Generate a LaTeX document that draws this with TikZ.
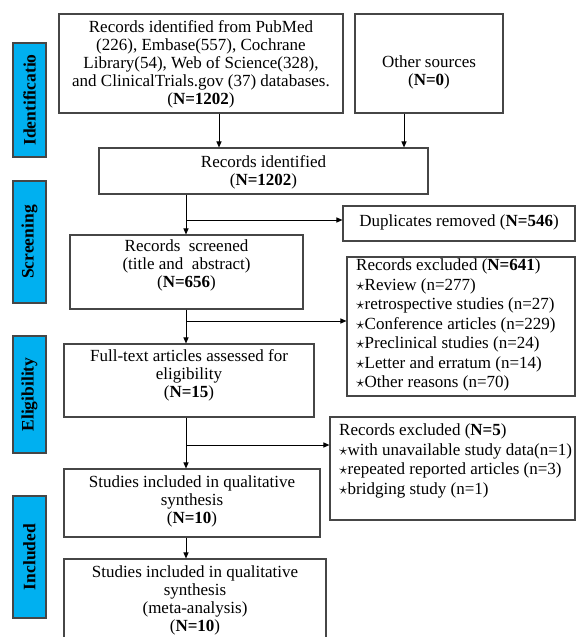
\documentclass[tikz,border=0pt]{standalone}
\usepackage{fontspec}
\setmainfont{Liberation Serif}
\usetikzlibrary{arrows.meta,calc}
\definecolor{barblue}{RGB}{0,176,240}
\definecolor{edgegray}{RGB}{70,70,70}
\tikzset{
  box/.style={draw=edgegray,line width=1.1pt,fill=white,inner sep=0pt},
  txt/.style={align=center,font=\fontsize{17}{18}\selectfont,inner sep=0pt},
  ltxt/.style={align=left,font=\fontsize{17}{19.5}\selectfont,inner sep=0pt,anchor=west},
  bar/.style={draw=edgegray,line width=1.1pt,fill=barblue,inner sep=0pt,minimum width=33pt},
  bartxt/.style={rotate=90,font=\fontsize{17.5}{18}\selectfont\bfseries,inner sep=0pt},
  arr/.style={line width=1pt,-{Triangle[length=6pt,width=5pt]}},
  ln/.style={line width=1pt}
}
\begin{document}
\begin{tikzpicture}[x=1pt,y=-1pt]
\useasboundingbox (0,0) rectangle (576,637);
\clip (0,0) rectangle (576,637);
% phase bars
\node[bar,minimum height=114pt] (b1) at (29.5,100) {};
\node[bartxt] (b1t) at (b1.center) {Identificatio};
\node[bar,minimum height=122pt] (b2) at (29.5,242) {};
\node[bartxt] (b2t) at (b2.center) {Screening};
\node[bar,minimum height=117pt] (b3) at (29.5,394.5) {};
\node[bartxt] (b3t) at (b3.center) {Eligibility};
\node[bar,minimum height=122pt] (b4) at (29.5,557) {};
\node[bartxt] (b4t) at (b4.center) {Included};
% boxes
\node[box,minimum width=284pt,minimum height=99pt] (db) at (201,63.5) {};
\node[txt] (dbt) at (201,64.5) {Records identified from PubMed\\(226), Embase(557), Cochrane\\Library(54), Web of Science(328),\\and ClinicalTrials.gov (37) databases.\\(\textbf{N=1202})};
\node[box,minimum width=148pt,minimum height=99pt] (other) at (429,63.5) {};
\node[txt] (othert) at (429,72) {Other sources\\(\textbf{N=0})};
\node[box,minimum width=329pt,minimum height=46pt] (ident) at (263.5,171) {};
\node[txt] (identt) at (263.5,172) {Records identified\\(\textbf{N=1202})};
\node[box,minimum width=232pt,minimum height=35pt] (dup) at (459,223.5) {};
\node[txt] (dupt) at (459,222.5) {Duplicates removed (\textbf{N=546})};
\node[box,minimum width=233pt,minimum height=74pt] (scr) at (186.5,272) {};
\node[txt] (scrt) at (186.5,265.5) {Records\ \ screened\\(title and\ \ abstract)\\(\textbf{N=656})};
\node[box,minimum width=228pt,minimum height=139pt] (ex1) at (461,326.5) {};
\node[ltxt] (ex1t) at (356,325) {Records excluded (\textbf{N=641})\\
$\star$Review (n=277)\\
$\star$retrospective studies (n=27)\\
$\star$Conference articles (n=229)\\
$\star$Preclinical studies (n=24)\\
$\star$Letter and erratum (n=14)\\
$\star$Other reasons (n=70)};
\node[box,minimum width=250pt,minimum height=73pt] (full) at (189,380.5) {};
\node[txt] (fullt) at (189,375.5) {Full-text articles assessed for\\eligibility\\(\textbf{N=15})};
\node[box,minimum width=245pt,minimum height=103pt] (ex2) at (452.5,468.5) {};
\node[ltxt] (ex2t) at (339,461) {Records excluded (\textbf{N=5})\\
$\star$with unavailable study data(n=1)\\
$\star$repeated reported articles (n=3)\\
$\star$bridging study (n=1)};
\node[box,minimum width=256pt,minimum height=68pt] (stu) at (192,503) {};
\node[txt] (stut) at (192,501.5) {Studies included in qualitative\\synthesis\\(\textbf{N=10})};
\node[box,minimum width=262pt,minimum height=91pt] (fin) at (195,604.5) {};
\node[txt] (fint) at (195,600.5) {Studies included in qualitative\\synthesis\\(meta-analysis)\\(\textbf{N=10})};
% connectors
\coordinate (c1) at (186,220);
\coordinate (c2) at (186,321);
\coordinate (c3) at (186,445);
\draw[arr] ([xshift=18pt]db.south) -- ([xshift=18pt]db.south |- ident.north);
\draw[arr] ([xshift=-25pt]other.south) -- ([xshift=-25pt]other.south |- ident.north);
\draw[arr] (ident.south -| c1) -- (scr.north -| c1);
\draw[arr] (c1) -- (dup.west |- c1);
\draw[arr] (scr.south -| c2) -- (full.north -| c2);
\draw[arr] (c2) -- (ex1.west |- c2);
\draw[arr] (full.south -| c3) -- (stu.north -| c3);
\draw[arr] (c3) -- (ex2.west |- c3);
\draw[arr] (stu.south -| c3) -- (fin.north -| c3);
\end{tikzpicture}
\end{document}
